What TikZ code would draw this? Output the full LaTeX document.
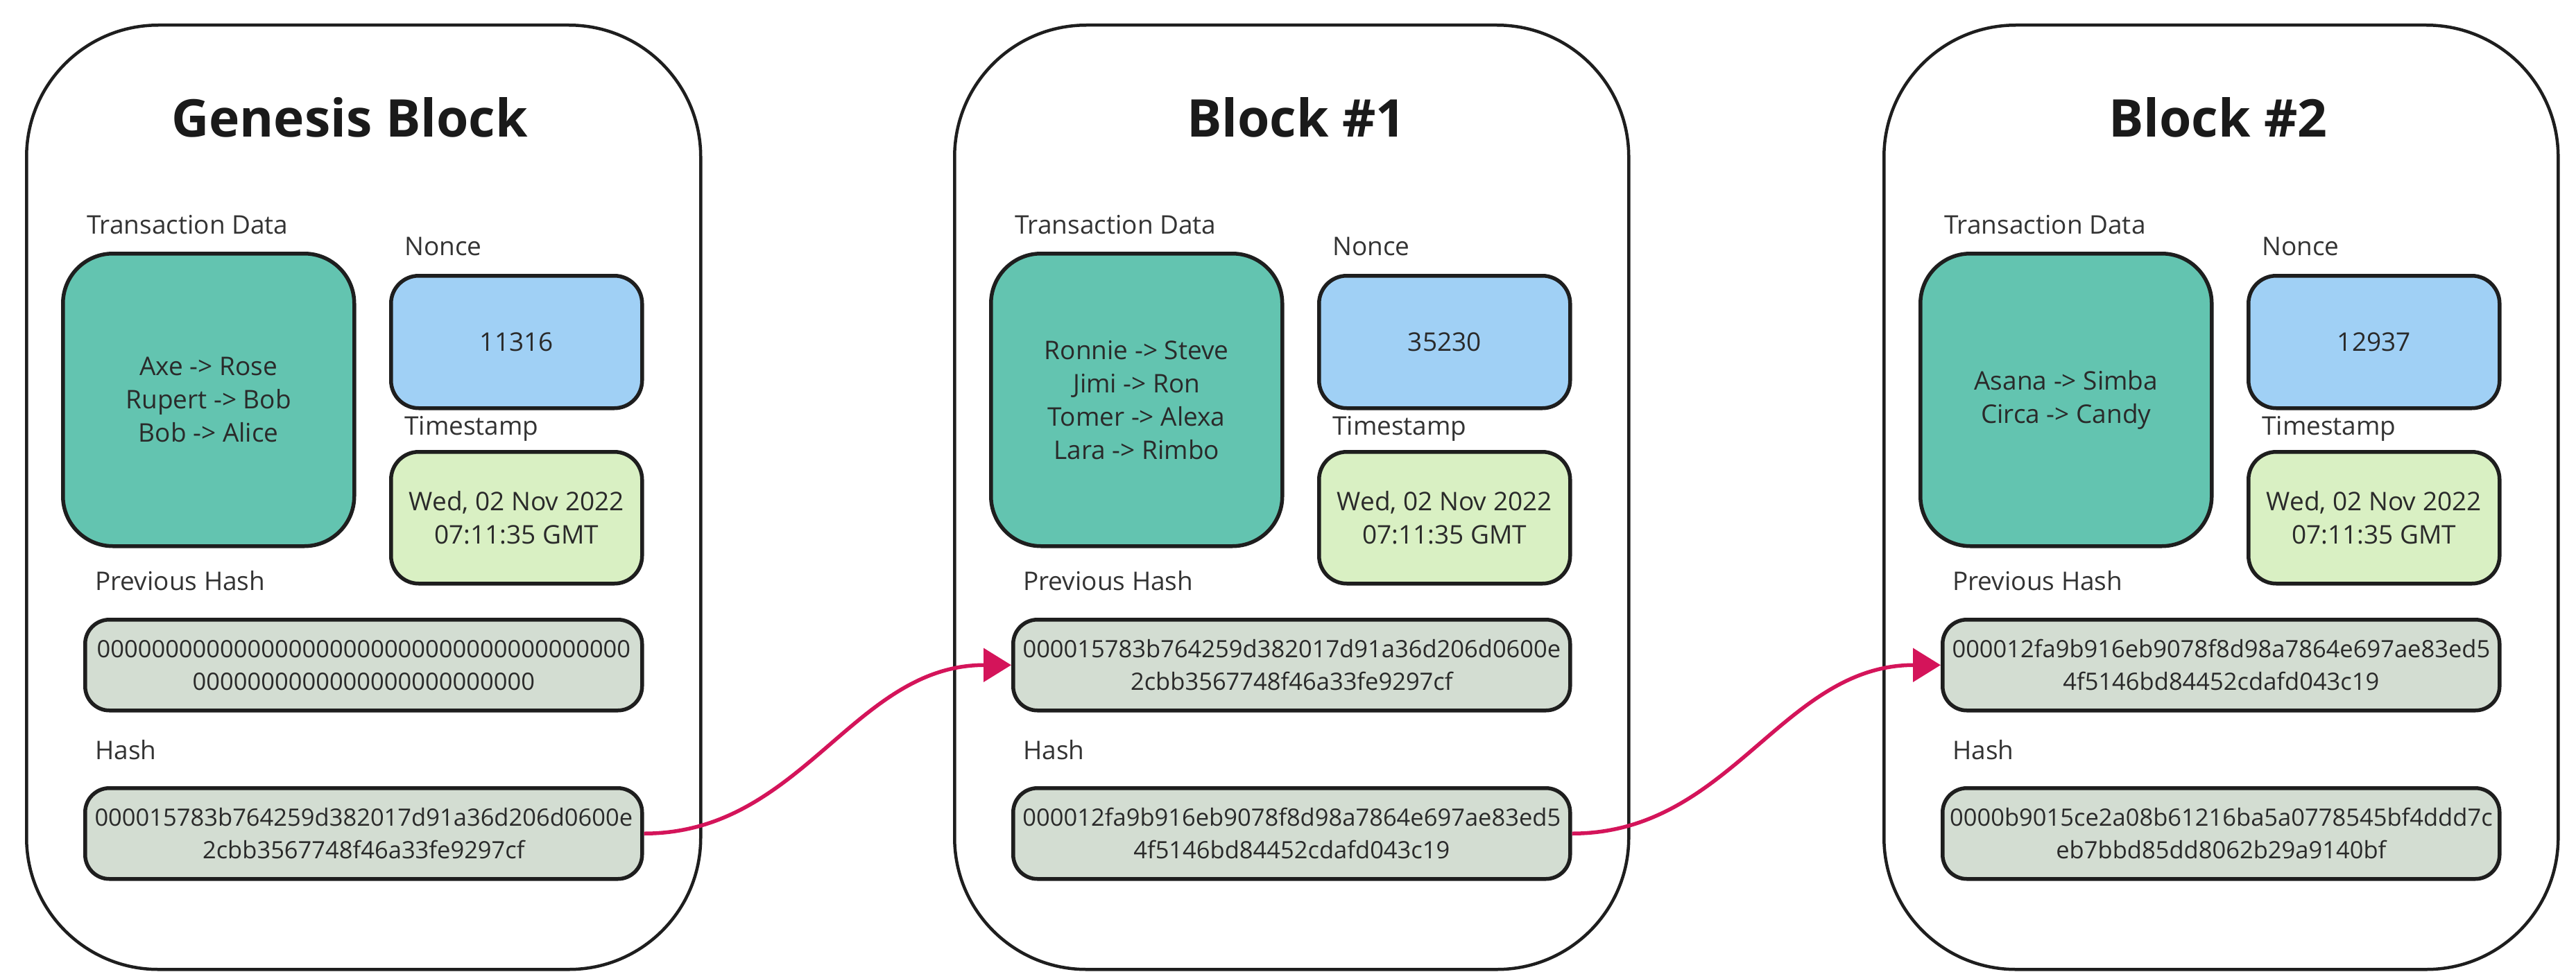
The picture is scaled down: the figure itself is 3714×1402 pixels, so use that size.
\documentclass[tikz,border=0pt]{standalone}
\usepackage{fontspec}
\setmainfont{Open Sans}
\usetikzlibrary{arrows.meta}
\definecolor{linec}{HTML}{1E1E1E}
\definecolor{tealc}{HTML}{63C4B0}
\definecolor{bluec}{HTML}{A0D0F5}
\definecolor{greenc}{HTML}{D9F0C3}
\definecolor{greyc}{HTML}{D3DDD2}
\definecolor{arrowc}{HTML}{D4145A}
\definecolor{lblc}{HTML}{333333}
\definecolor{txtc}{HTML}{2A2A2A}
\definecolor{ttlc}{HTML}{1A1A1A}
\newcommand\myBody{\fontsize{37}{48}\selectfont}
\newcommand\myHash{\fontsize{34.5}{47}\selectfont}
\newcommand\myTitle{\fontsize{75}{90}\selectfont\bfseries}
\tikzset{
  blockbox/.style={draw=linec, line width=4.5pt, rounded corners=190pt, minimum width=972pt, minimum height=1362pt, anchor=north west, inner sep=0pt, fill=white},
  inbox/.style={draw=linec, line width=5.5pt, anchor=north west, inner sep=0pt, align=center, font=\myBody, text=txtc},
  txbox/.style={inbox, fill=tealc, rounded corners=72pt, minimum width=420pt, minimum height=422pt},
  noncebox/.style={inbox, fill=bluec, rounded corners=40pt, minimum width=362pt, minimum height=191pt},
  timebox/.style={inbox, fill=greenc, rounded corners=40pt, minimum width=362pt, minimum height=190pt},
  hashbox/.style={inbox, fill=greyc, rounded corners=35pt, minimum width=803pt, minimum height=131pt, font=\myHash},
  lbl/.style={anchor=base west, inner sep=0pt, font=\myBody, text=lblc},
  ttl/.style={anchor=base, inner sep=0pt, font=\myTitle, text=ttlc},
  conn/.style={draw=arrowc, line width=5.5pt, -{Triangle[length=40pt,width=48pt]}}
}
\newcommand\chainblock[8]{%
\begin{scope}[xshift=#2pt]
\node[blockbox] (#1-block) at (0,34) {};
\node[ttl] (#1-title) at (#4,197) {#3};
\node[lbl] (#1-txl) at (89,337) {Transaction Data};
\node[txbox] (#1-tx) at (52,363) {#5};
\node[lbl] (#1-nl) at (547,368) {Nonce};
\node[noncebox] (#1-nonce) at (525,395) {#6};
\node[lbl] (#1-tsl) at (547,627) {Timestamp};
\node[timebox] (#1-ts) at (525,649) {Wed, 02 Nov 2022\\07:11:35 GMT};
\node[lbl] (#1-pl) at (101,851) {Previous Hash};
\node[hashbox] (#1-prev) at (84,891) {#7};
\node[lbl] (#1-hl) at (101,1095) {Hash};
\node[hashbox] (#1-hash) at (84,1134) {#8};
\end{scope}}
\begin{document}
\begin{tikzpicture}[x=1pt,y=-1pt]
\useasboundingbox[fill=white] (0,0) rectangle (3714,1402);
\chainblock{g}{36}{Genesis Block}{468}{Axe -> Rose\\Rupert -> Bob\\Bob -> Alice}{11316}{000000000000000000000000000000000000000\\0000000000000000000000000}{000015783b764259d382017d91a36d206d0600e\\2cbb3567748f46a33fe9297cf}
\chainblock{b1}{1374}{Block \#1}{495}{Ronnie -> Steve\\Jimi -> Ron\\Tomer -> Alexa\\Lara -> Rimbo}{35230}{000015783b764259d382017d91a36d206d0600e\\2cbb3567748f46a33fe9297cf}{000012fa9b916eb9078f8d98a7864e697ae83ed5\\4f5146bd84452cdafd043c19}
\chainblock{b2}{2714}{Block \#2}{484}{Asana -> Simba\\Circa -> Candy}{12937}{000012fa9b916eb9078f8d98a7864e697ae83ed5\\4f5146bd84452cdafd043c19}{0000b9015ce2a08b61216ba5a0778545bf4ddd7c\\eb7bbd85dd8062b29a9140bf}
\draw[conn] (g-hash.east) to[out=0,in=180] (b1-prev.west);
\draw[conn] (b1-hash.east) to[out=0,in=180] (b2-prev.west);
\end{tikzpicture}
\end{document}
